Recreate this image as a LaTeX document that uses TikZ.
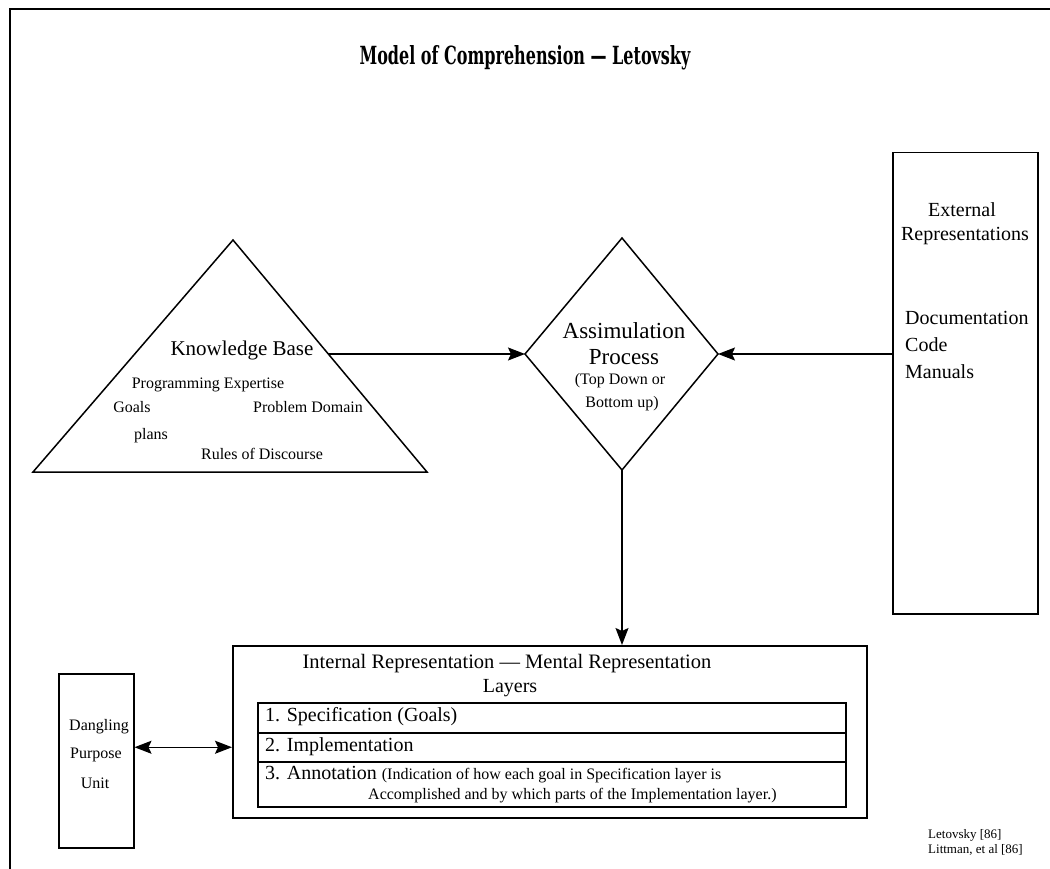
\documentclass[tikz,border=0pt]{standalone}
\usepackage{fontspec}
\setmainfont{Liberation Serif}
\newfontfamily\titlefont[FakeStretch=0.64]{DejaVu Serif}
\usetikzlibrary{arrows.meta}

\begin{document}
\begin{tikzpicture}[x=1pt,y=-1pt,
  outline/.style={draw, line width=1.5pt, line join=miter},
  boxnode/.style={draw, line width=1.5pt, inner sep=0pt, anchor=north west},
  tip/.tip={Stealth[length=17pt,width=13pt,inset=3pt]},
  arr/.style={line width=1.5pt, -tip},
  dblarr/.style={line width=1.5pt, tip-tip},
  lbl/.style={inner sep=0pt, font=\fontsize{20}{22}\selectfont},
  sm/.style={inner sep=0pt, font=\fontsize{16}{18}\selectfont},
  note/.style={inner sep=0pt, anchor=base west, font=\fontsize{13}{15}\selectfont},
]
\useasboundingbox (0,0) rectangle (1050,869);
\fill[white] (0,0) rectangle (1050,869);

% page frame
\draw[line width=2.4pt] (10,869) -- (10,9) -- (1050,9);

% title
\node[inner sep=0pt, font=\titlefont\bfseries\fontsize{25}{28}\selectfont] (title) at (525,58)
  {Model of Comprehension — Letovsky};

% knowledge base triangle
\coordinate (kbA) at (233,240);
\coordinate (kbL) at (33,472);
\coordinate (kbR) at (427,472);
\coordinate (kbOut) at (328,354);
\draw[outline] (kbA) -- (kbL) -- (kbR) -- cycle;
\node[lbl, font=\fontsize{21}{23}\selectfont] (kb) at (242,350) {Knowledge Base};
\node[sm]  (kb1) at (208,385) {Programming Expertise};
\node[sm]  (kb2) at (132,407) {Goals};
\node[sm]  (kb3) at (308,407) {Problem Domain};
\node[sm]  (kb4) at (151,436) {plans};
\node[sm]  (kb5) at (262,454) {Rules of Discourse};

% assimilation diamond
\coordinate (dT) at (622,238);
\coordinate (dR) at (718,354);
\coordinate (dB) at (622,470);
\coordinate (dL) at (525,354);
\draw[outline] (dT) -- (dR) -- (dB) -- (dL) -- cycle;
\node[lbl, font=\fontsize{23}{25}\selectfont] (as1) at (624,331) {Assimulation};
\node[lbl, font=\fontsize{23}{25}\selectfont] (as2) at (624,357) {Process};
\node[sm]  (as3) at (620,381) {(Top Down or};
\node[sm]  (as4) at (622,404) {Bottom up)};

% external representations
\node[boxnode, minimum width=145pt, minimum height=461pt] (ext) at (892,152) {};
\node[lbl] (ex1) at (962,210) {External};
\node[lbl] (ex2) at (965,236) {Representations};
\node[lbl, anchor=west] (ex3) at (905,318) {Documentation};
\node[lbl, anchor=west] (ex4) at (905,345) {Code};
\node[lbl, anchor=west] (ex5) at (905,372) {Manuals};

% internal representation with its layers
\node[boxnode, minimum width=634pt, minimum height=172pt] (int) at (232,645) {};
\node[lbl, font=\fontsize{20.5}{22}\selectfont] (in1) at (507,664) {Internal Representation — Mental Representation};
\node[lbl] (in2) at (510,688) {Layers};
\node[boxnode, minimum width=588pt, minimum height=30pt] (row1) at (257,702) {};
\node[boxnode, minimum width=588pt, minimum height=29pt] (row2) at (257,732) {};
\node[boxnode, minimum width=588pt, minimum height=45pt] (row3) at (257,761) {};
\node[lbl, anchor=west] (r1) at (265,717) {1. Specification (Goals)};
\node[lbl, anchor=west] (r2) at (265,747) {2. Implementation};
\node[inner sep=0pt, anchor=base west] (r3) at (265,779)
  {\fontsize{20}{22}\selectfont 3. Annotation \fontsize{16}{18}\selectfont(Indication of how each goal in Specification layer is};
\node[inner sep=0pt, anchor=base west, font=\fontsize{16}{18}\selectfont] (r3b) at (368,799)
  {Accomplished and by which parts of the Implementation layer.)};

% dangling purpose unit
\node[boxnode, minimum width=75pt, minimum height=174pt] (dang) at (58,673) {};
\node[sm] (dp1) at (99,727) {Dangling};
\node[sm] (dp2) at (96,755) {Purpose};
\node[sm] (dp3) at (95,783) {Unit};

% connectors
\draw[arr] (kbOut) -- (dL);
\draw[arr] (ext.west |- dR) -- (dR);
\draw[arr] (dB) -- (int.north -| dB);
\draw[dblarr] (dang.east |- row2.west) -- (int.west |- row2.west);

% references
\node[note] (ref1) at (928,838) {Letovsky [86]};
\node[note] (ref2) at (928,853) {Littman, et al [86]};
\end{tikzpicture}
\end{document}
